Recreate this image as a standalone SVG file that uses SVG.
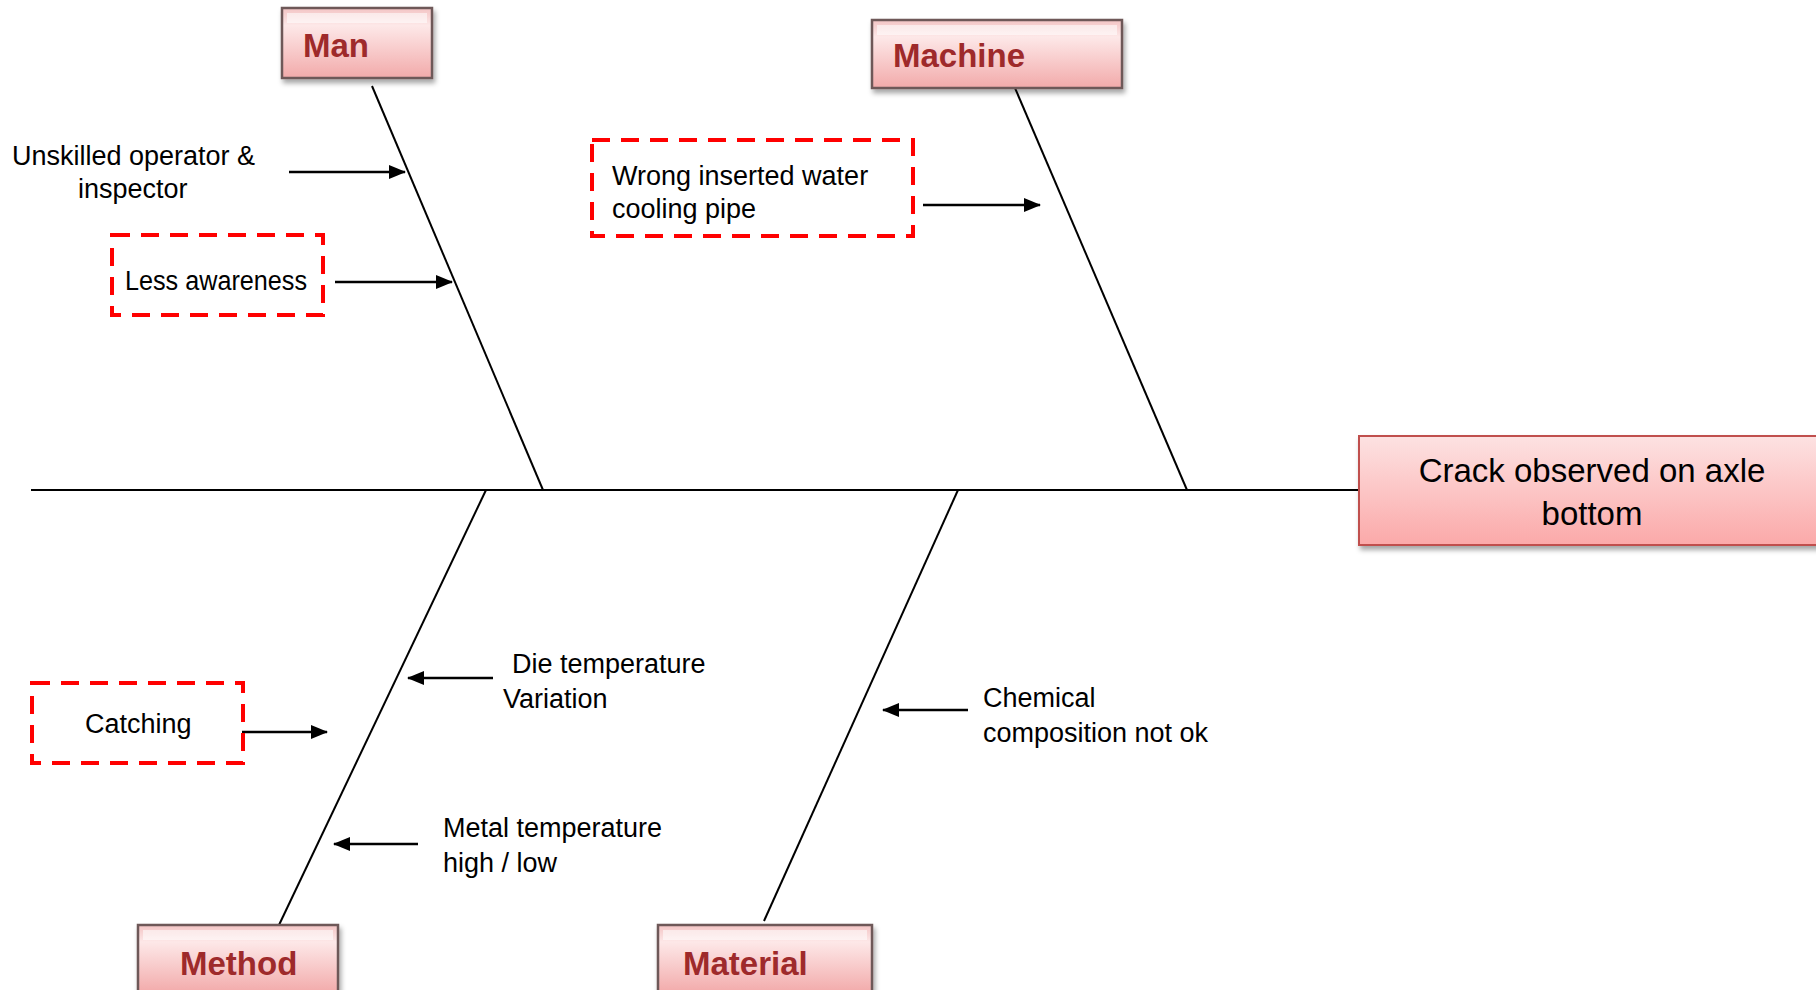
<svg xmlns="http://www.w3.org/2000/svg" width="1816" height="990" viewBox="0 0 1816 990">
<defs>
<style>
.txt{font-family:"Liberation Sans",Arial,sans-serif;font-size:27px;fill:#000}
.cat{font-family:"Liberation Sans",Arial,sans-serif;font-size:33px;font-weight:bold;fill:#9e2a2b}
.eff{font-family:"Liberation Sans",Arial,sans-serif;font-size:33px;fill:#000;text-anchor:middle}
.bone{stroke:#000;stroke-width:2;fill:none}
.arr{stroke:#000;stroke-width:2.5;fill:none;marker-end:url(#ah)}
.dash{fill:none;stroke:#ff0000;stroke-width:4;stroke-dasharray:18 11}
.catbox{fill:url(#catg);stroke:#6e5858;stroke-width:2.5;filter:url(#sh)}
.hl{fill:#ffffff;opacity:0.55}
</style>
<linearGradient id="catg" x1="0" y1="0" x2="0" y2="1">
<stop offset="0" stop-color="#f3c4c4"/>
<stop offset="0.25" stop-color="#fde8e8"/>
<stop offset="1" stop-color="#f2aaaa"/>
</linearGradient>
<linearGradient id="effg" x1="0" y1="0" x2="0" y2="1">
<stop offset="0" stop-color="#fde2e2"/>
<stop offset="1" stop-color="#fba9a9"/>
</linearGradient>
<filter id="sh" x="-10%" y="-10%" width="130%" height="140%">
<feDropShadow dx="2" dy="4" stdDeviation="2.5" flood-color="#000" flood-opacity="0.35"/>
</filter>
<marker id="ah" markerUnits="userSpaceOnUse" markerWidth="17" markerHeight="14" refX="16" refY="7" orient="auto">
<path d="M0,0 L17,7 L0,14 Z" fill="#000"/>
</marker>
</defs>
<rect width="1816" height="990" fill="#fff"/>

<g id="connectors">
<line class="bone" x1="31" y1="490" x2="1359" y2="490"/>
<line class="bone" x1="372" y1="86" x2="543" y2="490"/>
<line class="bone" x1="1015" y1="88" x2="1187" y2="490"/>
<line class="bone" x1="486" y1="490" x2="279" y2="925"/>
<line class="bone" x1="958" y1="490" x2="764" y2="921"/>
<line class="arr" x1="289" y1="172" x2="405" y2="172"/>
<line class="arr" x1="335" y1="282" x2="452" y2="282"/>
<line class="arr" x1="923" y1="205" x2="1040" y2="205"/>
<line class="arr" x1="242" y1="732" x2="327" y2="732"/>
<line class="arr" x1="493" y1="678" x2="408" y2="678"/>
<line class="arr" x1="418" y1="844" x2="334" y2="844"/>
<line class="arr" x1="968" y1="710" x2="883" y2="710"/>
</g>

<g id="effect">
<rect x="1359" y="436" width="470" height="109" fill="url(#effg)" stroke="#c0504d" stroke-width="2" filter="url(#sh)"/>
<text class="eff" x="1592" y="482">Crack observed on axle</text>
<text class="eff" x="1592" y="525">bottom</text>
</g>

<g id="man">
<rect class="catbox" x="282" y="8" width="150" height="70"/>
<rect class="hl" x="287" y="13" width="140" height="10"/>
<text class="cat" x="303" y="57">Man</text>
</g>

<g id="machine">
<rect class="catbox" x="872" y="20" width="250" height="68"/>
<rect class="hl" x="877" y="25" width="240" height="10"/>
<text class="cat" x="893" y="67">Machine</text>
</g>

<g id="method">
<rect class="catbox" x="138" y="925" width="200" height="68"/>
<rect class="hl" x="143" y="930" width="190" height="10"/>
<text class="cat" x="180" y="975">Method</text>
</g>

<g id="material">
<rect class="catbox" x="658" y="925" width="214" height="68"/>
<rect class="hl" x="663" y="930" width="204" height="10"/>
<text class="cat" x="683" y="975">Material</text>
</g>

<g id="cause-unskilled">
<text class="txt" x="12" y="165">Unskilled operator &amp;</text>
<text class="txt" x="78" y="198">inspector</text>
</g>

<g id="cause-awareness">
<rect class="dash" x="112" y="235" width="211" height="80"/>
<text class="txt" x="125" y="290" textLength="182" lengthAdjust="spacingAndGlyphs">Less awareness</text>
</g>

<g id="cause-pipe">
<rect class="dash" x="592" y="140" width="321" height="96"/>
<text class="txt" x="612" y="185">Wrong inserted water</text>
<text class="txt" x="612" y="218">cooling pipe</text>
</g>

<g id="cause-catching">
<rect class="dash" x="32" y="683" width="211" height="80"/>
<text class="txt" x="85" y="733">Catching</text>
</g>

<g id="cause-die">
<text class="txt" x="512" y="673">Die temperature</text>
<text class="txt" x="503" y="708">Variation</text>
</g>

<g id="cause-metal">
<text class="txt" x="443" y="837">Metal temperature</text>
<text class="txt" x="443" y="872">high / low</text>
</g>

<g id="cause-chemical">
<text class="txt" x="983" y="707">Chemical</text>
<text class="txt" x="983" y="742">composition not ok</text>
</g>
</svg>
